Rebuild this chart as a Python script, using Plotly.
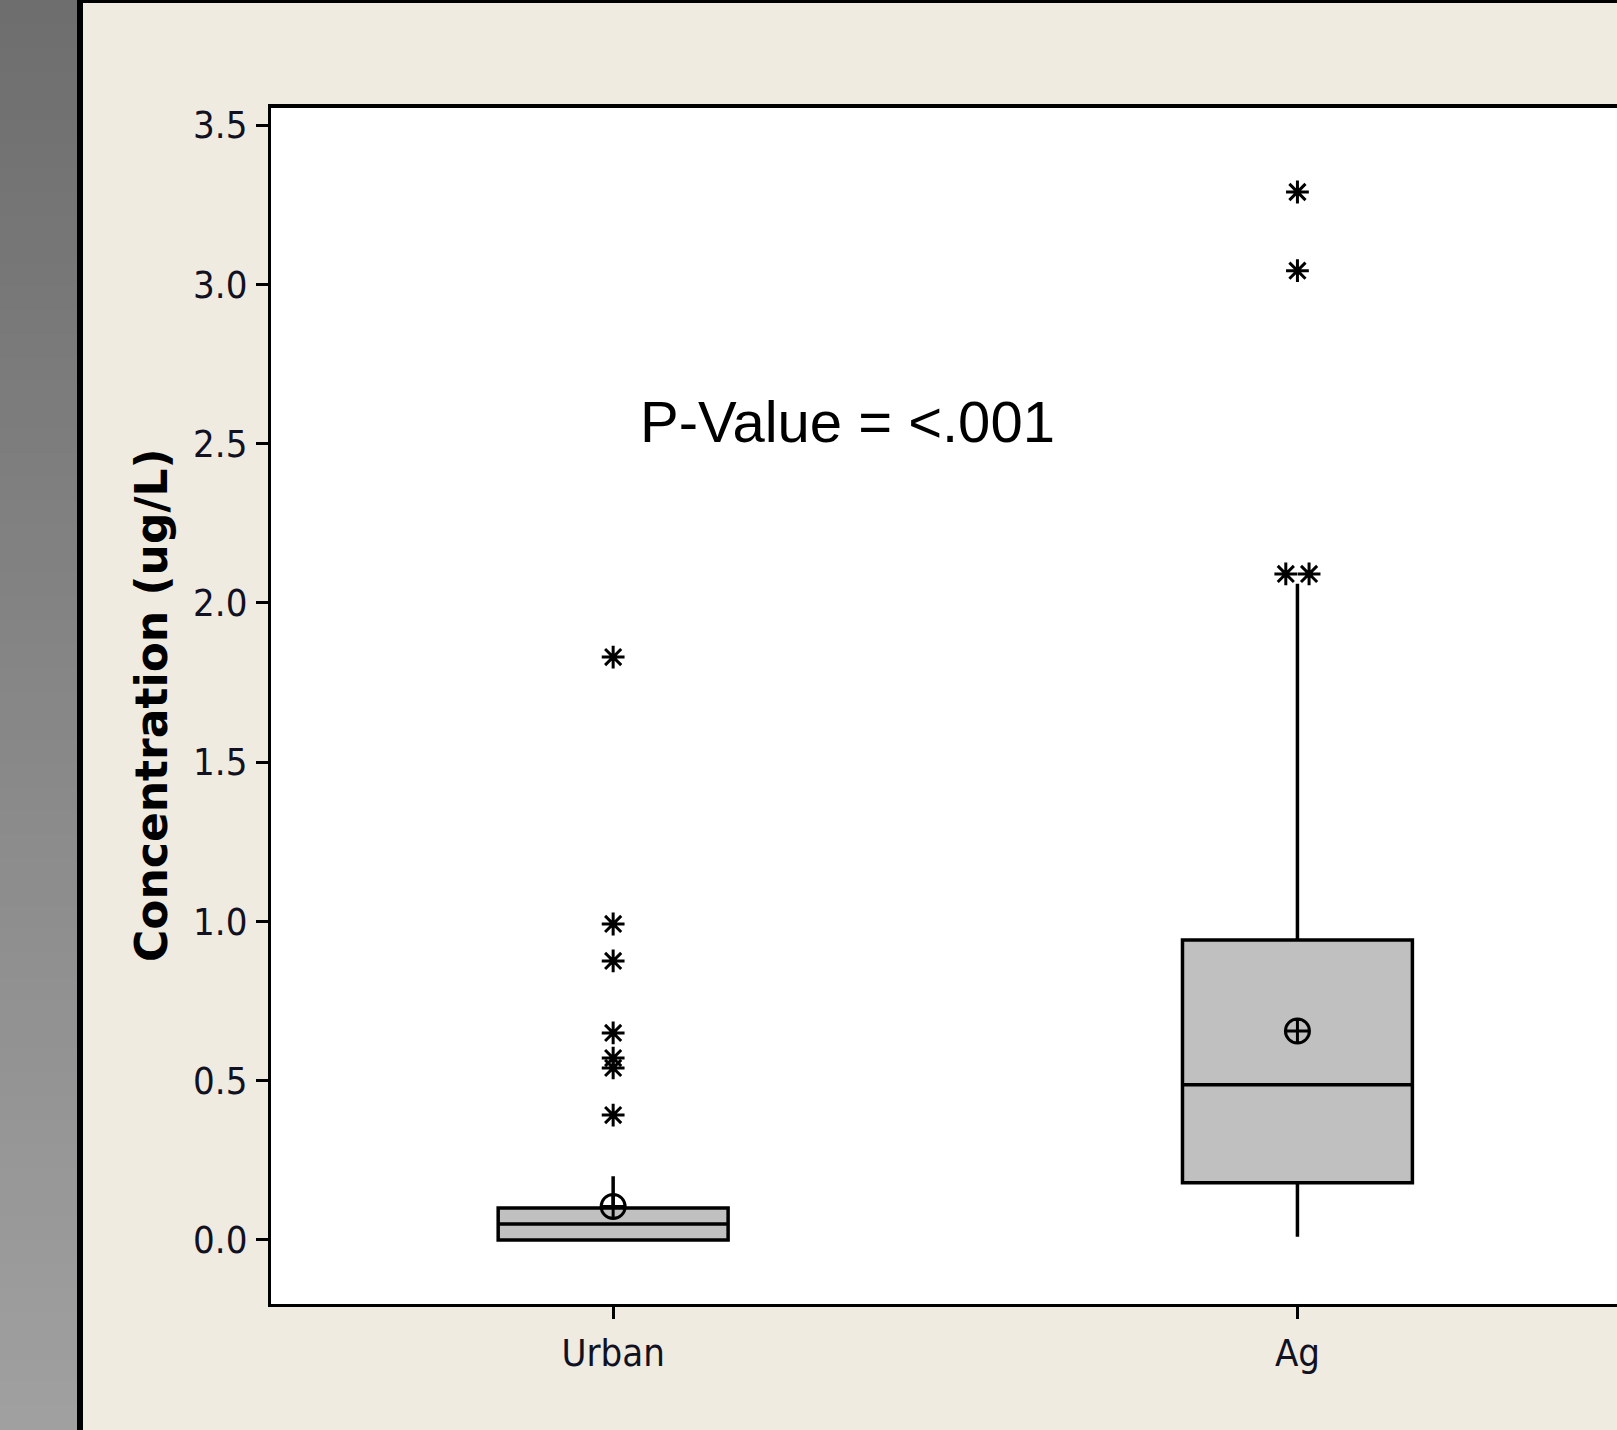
import plotly.graph_objects as go

# ---- data ----
categories = ["Urban", "Ag"]
q1 = [0.0, 0.18]
median = [0.05, 0.487]
q3 = [0.10, 0.942]
lower_whisker = [0.0, 0.01]
upper_whisker = [0.20, 2.06]
means = [0.105, 0.656]
urban_outliers = [1.83, 0.992, 0.876, 0.65, 0.571, 0.540, 0.392]
ag_outliers = [3.29, 3.043, 2.091, 2.091]
y_ticks = [0.0, 0.5, 1.0, 1.5, 2.0, 2.5, 3.0, 3.5]
y_ticktext = ["0.0", "0.5", "1.0", "1.5", "2.0", "2.5", "3.0", "3.5"]
annotation_text = "P-Value = <.001"
y_title = "Concentration (ug/L)"

W, H = 1617, 1430
ML, MT, MB, MR = 271, 106, 126, 0
PW, PH = W - ML - MR, H - MT - MB

def px_x(p):
    return (p - ML) / PW

def px_y(p):
    return (H - MB - p) / PH

fig = go.Figure()

for i, cat in enumerate(categories):
    fig.add_trace(go.Box(
        x=[i], q1=[q1[i]], median=[median[i]], q3=[q3[i]],
        lowerfence=[lower_whisker[i]], upperfence=[upper_whisker[i]],
        width=0.336, whiskerwidth=0, boxpoints=False,
        fillcolor="#C0C0C0", line=dict(color="black", width=3.5),
        showlegend=False, hoverinfo="skip",
    ))

# outliers (ties drawn side by side)
def tie_offsets(vals, step=0.017):
    xs = []
    seen = {}
    for v in vals:
        seen[v] = seen.get(v, 0) + 1
    counts = {}
    for v in vals:
        n = seen[v]
        k = counts.get(v, 0)
        counts[v] = k + 1
        xs.append((k - (n - 1) / 2) * step * 2 if n > 1 else 0.0)
    return xs

for i, outs in enumerate([urban_outliers, ag_outliers]):
    offs = tie_offsets(outs)
    fig.add_trace(go.Scatter(
        x=[i + o for o in offs], y=outs, mode="markers",
        marker=dict(symbol="asterisk-open", size=19, color="black",
                    line=dict(color="black", width=3)),
        showlegend=False, hoverinfo="skip",
    ))

fig.add_trace(go.Scatter(
    x=list(range(len(categories))), y=means, mode="markers",
    marker=dict(symbol="circle-cross-open", size=24, color="black",
                line=dict(color="black", width=3)),
    showlegend=False, hoverinfo="skip",
))

tick_font = dict(family="Liberation Sans Narrow, DejaVu Sans Condensed, Arial Narrow, Liberation Sans",
                 size=38, color="#111122")

fig.update_xaxes(
    range=[-0.5, 1.467], tickvals=list(range(len(categories))), ticktext=categories,
    showgrid=False, zeroline=False, showline=True, linecolor="black", linewidth=3,
    ticks="outside", ticklen=12, tickwidth=3, tickcolor="black",
    tickfont=tick_font, ticklabelstandoff=1,
)
fig.update_yaxes(
    range=[-0.201, 3.560], tickvals=y_ticks, ticktext=y_ticktext,
    showgrid=False, zeroline=False, showline=True, linecolor="black", linewidth=3,
    ticks="outside", ticklen=12, tickwidth=3, tickcolor="black",
    tickfont=tick_font, ticklabelstandoff=1,
)

shapes = []
# left gray gradient strip
n = 60
for k in range(n):
    t = k / (n - 1)
    g = int(round(0x6E + (0xA0 - 0x6E) * t))
    y0 = k * H / n
    y1 = (k + 1) * H / n + 1
    shapes.append(dict(type="rect", xref="paper", yref="paper", layer="below",
                       x0=px_x(0), x1=px_x(77), y0=px_y(y1), y1=px_y(y0),
                       fillcolor=f"rgb({g},{g},{g})", line=dict(width=0)))
# black vertical separator
shapes.append(dict(type="rect", xref="paper", yref="paper",
                   x0=px_x(77), x1=px_x(83), y0=px_y(H), y1=px_y(0),
                   fillcolor="black", line=dict(width=0)))
# top black line
shapes.append(dict(type="rect", xref="paper", yref="paper",
                   x0=px_x(77), x1=px_x(W), y0=px_y(3), y1=px_y(0),
                   fillcolor="black", line=dict(width=0)))
# plot top border
shapes.append(dict(type="line", xref="paper", yref="paper",
                   x0=px_x(268), x1=1, y0=1, y1=1,
                   line=dict(color="black", width=4)))

fig.update_layout(
    width=W, height=H,
    margin=dict(l=ML, r=MR, t=MT, b=MB, pad=0),
    paper_bgcolor="#EFEBE1", plot_bgcolor="white",
    shapes=shapes,
    annotations=[
        dict(text=annotation_text, x=0.342, y=2.571, xref="x", yref="y",
             showarrow=False, font=dict(family="Liberation Sans, Arial", size=58, color="black")),
        dict(text=f"<b>{y_title}</b>", x=px_x(151), y=0.5, xref="paper", yref="paper",
             textangle=-90, showarrow=False, xanchor="center", yanchor="middle",
             font=dict(family="DejaVu Sans, Verdana", size=44, color="black")),
    ],
)

fig.write_html("out.html")
